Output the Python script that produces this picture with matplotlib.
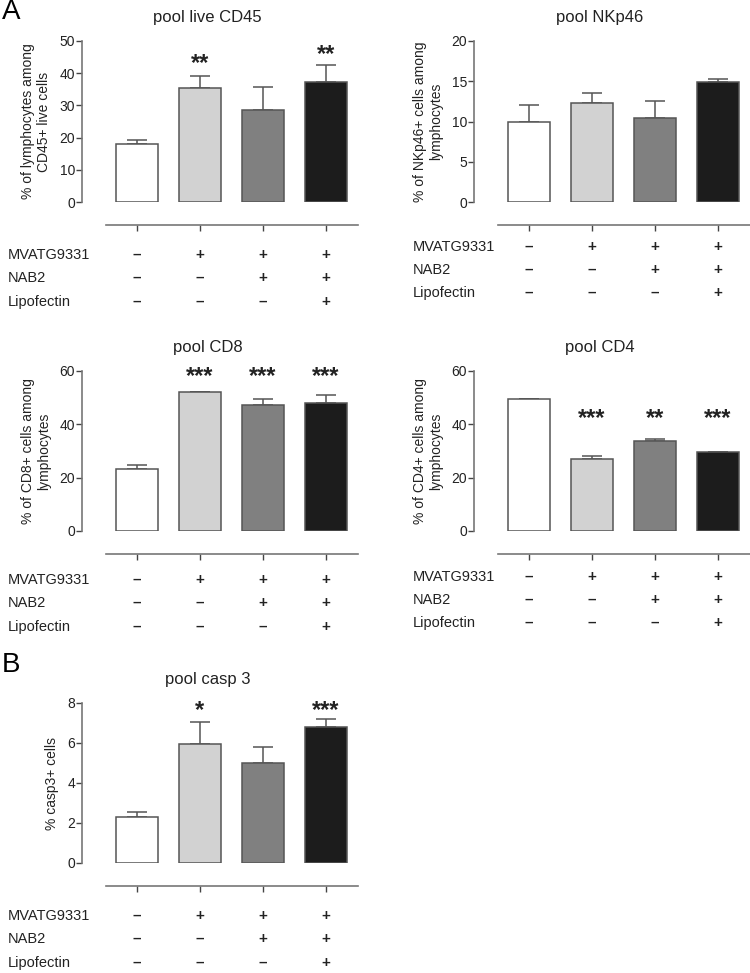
import numpy as np
import matplotlib.pyplot as plt
from matplotlib import transforms

plt.rcParams['font.family'] = ['Liberation Sans', 'DejaVu Sans']

W, H = 750, 973

groups = ["MVATG9331", "NAB2", "Lipofectin"]
mvatg = ["–", "+", "+", "+"]
nab2 = ["–", "–", "+", "+"]
lipo = ["–", "–", "–", "+"]
bar_colors = ["#ffffff", "#d2d2d2", "#808080", "#1c1c1c"]

titles = ["pool live CD45", "pool NKp46", "pool CD8", "pool CD4", "pool casp 3"]
ylabels = ["% of lymphocytes among\nCD45+ live cells",
           "% of NKp46+ cells among\nlymphocytes",
           "% of CD8+ cells among\nlymphocytes",
           "% of CD4+ cells among\nlymphocytes",
           "% casp3+ cells"]
means = [[18.0, 35.4, 28.7, 37.3],
         [10.0, 12.3, 10.4, 14.9],
         [23.4, 52.0, 47.2, 47.9],
         [49.5, 27.0, 33.8, 29.5],
         [2.28, 5.97, 5.02, 6.8]]
errs = [[1.3, 3.6, 6.9, 5.1],
        [2.1, 1.3, 2.2, 0.4],
        [1.4, 0.3, 2.3, 3.0],
        [0.1, 1.1, 0.8, 0.1],
        [0.27, 1.08, 0.8, 0.4]]
stars = [["", "**", "", "**"],
         ["", "", "", ""],
         ["", "***", "***", "***"],
         ["", "***", "**", "***"],
         ["", "*", "", "***"]]
star_y = [[0, 43.0, 0, 45.8],
          [0, 0, 0, 0],
          [0, 57.8, 57.8, 57.8],
          [0, 42.2, 42.2, 42.2],
          [0, 7.6, 0, 7.6]]
ymax = [50, 20, 60, 60, 8]
ystep = [10, 5, 20, 20, 2]

# layout in pixels: axes left, top, bottom; row offsets below axes; row label x
boxes = [(82, 41, 202, (53, 76, 100), 8),
         (474, 41, 202, (45, 68, 91), 413),
         (82, 371, 531, (49, 72, 96), 8),
         (474, 371, 531, (46, 69, 92), 413),
         (82, 703, 863, (53, 76, 100), 8)]
AX_W = 276
xlo, xhi = -0.873, 3.51

fig = plt.figure(figsize=(W / 100, H / 100), dpi=100)

for i in range(5):
    left, top, bottom, rows, lab_x = boxes[i]
    h = bottom - top
    ax = fig.add_axes([left / W, 1 - bottom / H, AX_W / W, h / H])
    x = np.arange(4)
    ax.bar(x, means[i], width=0.667, color=bar_colors, edgecolor="#555555",
           linewidth=1.1, zorder=2)
    for j in range(4):
        ax.errorbar(x[j], means[i][j], yerr=[[0], [errs[i][j]]], fmt="none",
                    ecolor="#555555", elinewidth=1.1, capsize=7.5, capthick=1.1,
                    zorder=1)
        if stars[i][j]:
            ax.text(x[j], star_y[i][j], stars[i][j], ha="center", va="center",
                    fontsize=17, fontweight="bold", color="#222222")
    ax.set_xlim(xlo, xhi)
    ax.set_ylim(0, ymax[i])
    ax.set_yticks(np.arange(0, ymax[i] + 0.01, ystep[i]))
    ax.tick_params(axis="y", labelsize=10, length=4, width=1, color="#444444",
                   labelcolor="#222222", pad=1)
    for s in ["top", "right"]:
        ax.spines[s].set_visible(False)
    ax.spines["left"].set_color("#777777")
    ax.spines["left"].set_linewidth(1.2)
    ax.spines["bottom"].set_position(("outward", 23 * 0.72))
    ax.spines["bottom"].set_bounds(-0.49, xhi)
    ax.spines["bottom"].set_color("#777777")
    ax.spines["bottom"].set_linewidth(1.2)
    ax.set_xticks(x)
    ax.set_xticklabels([])
    ax.tick_params(axis="x", length=4.5, width=1, color="#444444")
    ax.set_title(titles[i], fontsize=12, pad=14, color="#222222", x=0.455)
    ax.set_ylabel(ylabels[i], fontsize=10, color="#222222", labelpad=6)

    tr = transforms.blended_transform_factory(ax.transData, ax.transAxes)
    for r, vals in enumerate([mvatg, nab2, lipo]):
        yy = -rows[r] / h
        fig.text(lab_x / W, 1 - (bottom + rows[r]) / H, groups[r], fontsize=10.5,
                 ha="left", va="center", color="#222222")
        for j in range(4):
            ax.text(x[j], yy, vals[j], transform=tr, ha="center", va="center",
                    fontsize=11, fontweight="bold", color="#222222")

fig.text(2 / W, 1 - 12 / H, "A", fontsize=20, ha="left", va="center")
fig.text(2 / W, 1 - 665 / H, "B", fontsize=20, ha="left", va="center")

fig.savefig("out.png", dpi=100)
